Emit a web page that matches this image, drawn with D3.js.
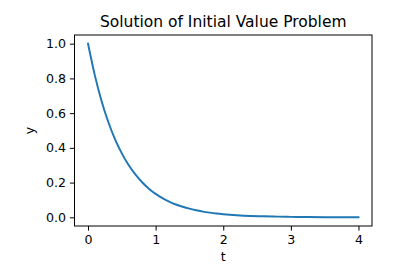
<!DOCTYPE html>
<html>
<head>
<meta charset="utf-8">
<script src="https://cdn.jsdelivr.net/npm/d3@7"></script>
<style>
  body { margin: 0; background: #fff; }
  text { font-family: "DejaVu Sans", sans-serif; fill: #000; }
</style>
</head>
<body>
<svg id="chart" width="400" height="280"></svg>
<script>
// values
const t_values = [0, 0.1, 0.2, 0.3, 0.4, 0.5, 0.6, 0.7, 0.8, 0.9, 1.0, 1.1, 1.2, 1.3, 1.4, 1.5, 1.6, 1.7, 1.8, 1.9, 2.0, 2.2, 2.4, 2.6, 2.8, 3.0, 3.25, 3.5, 3.75, 4.0]
const y_values = [1.0, 0.819, 0.670, 0.549, 0.449, 0.368, 0.301, 0.247, 0.202, 0.165, 0.135, 0.111, 0.091, 0.074, 0.061, 0.050, 0.041, 0.033, 0.027, 0.022, 0.018, 0.012, 0.008, 0.006, 0.004, 0.0025, 0.0015, 0.0009, 0.0006, 0.0003]
const x_ticks = [0, 1, 2, 3, 4]
const y_ticks = [0.0, 0.2, 0.4, 0.6, 0.8, 1.0]
const title_text = "Solution of Initial Value Problem"

const svg = d3.select("#chart")
const plotLeft = 74.5, plotRight = 372, plotTop = 35, plotBottom = 226

const x = d3.scaleLinear().domain([-0.2, 4.2]).range([plotLeft, plotRight])
const y = d3.scaleLinear().domain([-0.05, 1.05]).range([plotBottom, plotTop])

const points = t_values.map((t, i) => ({ t: t, y: y_values[i] }))

// curve
svg.append("path")
    .datum(points)
    .attr("fill", "none")
    .attr("stroke", "#1f77b4")
    .attr("stroke-width", 1.95)
    .attr("stroke-linecap", "square")
    .attr("d", d3.line().x(d => x(d.t)).y(d => y(d.y)).curve(d3.curveMonotoneX))

// axes
const xAxis = d3.axisBottom(x).tickValues(x_ticks).tickFormat(d3.format("d"))
    .tickSize(4.6).tickPadding(4)
const yAxis = d3.axisLeft(y).tickValues(y_ticks).tickFormat(d3.format(".1f"))
    .tickSize(4.6).tickPadding(4)

svg.append("g")
    .attr("transform", "translate(0," + plotBottom + ")")
    .call(xAxis)
svg.append("g")
    .attr("transform", "translate(" + plotLeft + ",0)")
    .call(yAxis)

svg.selectAll(".domain").remove()
svg.selectAll(".tick line").attr("stroke", "#000").attr("stroke-width", 1)
svg.selectAll(".tick text").attr("font-size", 12.6).style("font-family", "DejaVu Sans")

// frame
svg.append("rect")
    .attr("x", plotLeft).attr("y", plotTop)
    .attr("width", plotRight - plotLeft).attr("height", plotBottom - plotTop)
    .attr("fill", "none")
    .attr("stroke", "#000")
    .attr("stroke-width", 1)

// labels
svg.append("text")
    .attr("x", (plotLeft + plotRight) / 2).attr("y", 26.5)
    .attr("text-anchor", "middle")
    .attr("font-size", 15.5)
    .text(title_text)

svg.append("text")
    .attr("x", (plotLeft + plotRight) / 2).attr("y", 261)
    .attr("text-anchor", "middle")
    .attr("font-size", 12.6)
    .text("t")

svg.append("text")
    .attr("transform", "translate(33.5," + (plotTop + plotBottom) / 2 + ") rotate(-90)")
    .attr("text-anchor", "middle")
    .attr("font-size", 12.6)
    .text("y")
</script>
</body>
</html>
